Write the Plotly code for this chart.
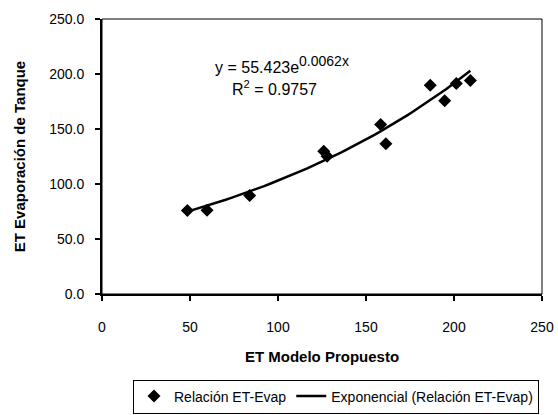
import numpy as np
import plotly.graph_objects as go

# Data
et_modelo = [48.5, 59.7, 83.9, 126.0, 127.9, 158.3, 161.3, 186.5, 194.7, 201.3, 209.3]
et_tanque = [75.9, 76.2, 89.5, 129.8, 125.3, 154.0, 136.5, 189.8, 175.6, 191.4, 194.1]

# Exponential trendline coefficients (shown on the chart)
coef_a = 55.423
coef_b = 0.0062
r2_text = "0.9757"

x_ticks = [0, 50, 100, 150, 200, 250]
y_ticks = [0, 50, 100, 150, 200, 250]

FONT = "Liberation Sans, Arial, sans-serif"

trend_x = np.linspace(min(et_modelo), max(et_modelo), 60)
trend_y = coef_a * np.exp(coef_b * trend_x)

fig = go.Figure()
fig.add_trace(go.Scatter(
    x=et_modelo, y=et_tanque, mode="markers", name="Relación ET-Evap",
    marker=dict(symbol="diamond", size=10, color="black"),
))
fig.add_trace(go.Scatter(
    x=trend_x, y=trend_y, mode="lines", name="Exponencial (Relación ET-Evap)",
    line=dict(color="black", width=2.5),
))

fig.add_shape(type="rect", xref="paper", yref="paper", x0=0, y0=0, x1=1, y1=1,
              line=dict(color="black", width=1), layer="above")

fig.add_annotation(x=102, y=209, xref="x", yref="y",
                   text=f"y = {coef_a}e<sup><span style='font-size:14px'>{coef_b}x</span></sup>",
                   showarrow=False,
                   font=dict(family=FONT, size=16, color="black"))
fig.add_annotation(x=98, y=187, xref="x", yref="y",
                   text=f"R<sup>2</sup> = {r2_text}", showarrow=False,
                   font=dict(family=FONT, size=16, color="black"))

fig.update_layout(
    width=558, height=415,
    margin=dict(l=102, r=16, t=19, b=121, autoexpand=False),
    paper_bgcolor="white", plot_bgcolor="white",
    font=dict(family=FONT, size=14, color="black"),
    showlegend=True,
    legend=dict(orientation="h", xref="container", yref="container",
                x=133/558, y=1.5/415, xanchor="left", yanchor="bottom",
                bordercolor="black", borderwidth=1,
                font=dict(family=FONT, size=14, color="black")),
    xaxis=dict(range=[0, 250], tickvals=x_ticks, showgrid=False, zeroline=False,
               automargin=False,
               showline=True, linecolor="black", linewidth=2,
               ticks="outside", ticklen=5, tickwidth=2, tickcolor="black",
               ticklabelstandoff=14,
               title=dict(text="<b>ET Modelo Propuesto</b>", standoff=18,
                          font=dict(family=FONT, size=15))),
    yaxis=dict(range=[0, 250], tickvals=y_ticks, tickformat=".1f", showgrid=False,
               automargin=False,
               zeroline=False, showline=True, linecolor="black", linewidth=2,
               ticks="outside", ticklen=5, tickwidth=2, tickcolor="black",
               ticklabelstandoff=8,
               title=dict(text="<b>ET Evaporación de Tanque</b>", standoff=20,
                          font=dict(family=FONT, size=15))),
)

fig.write_html("out.html", config={"displayModeBar": False},
               post_script="document.body.style.margin='0';document.body.style.overflow='hidden';")
